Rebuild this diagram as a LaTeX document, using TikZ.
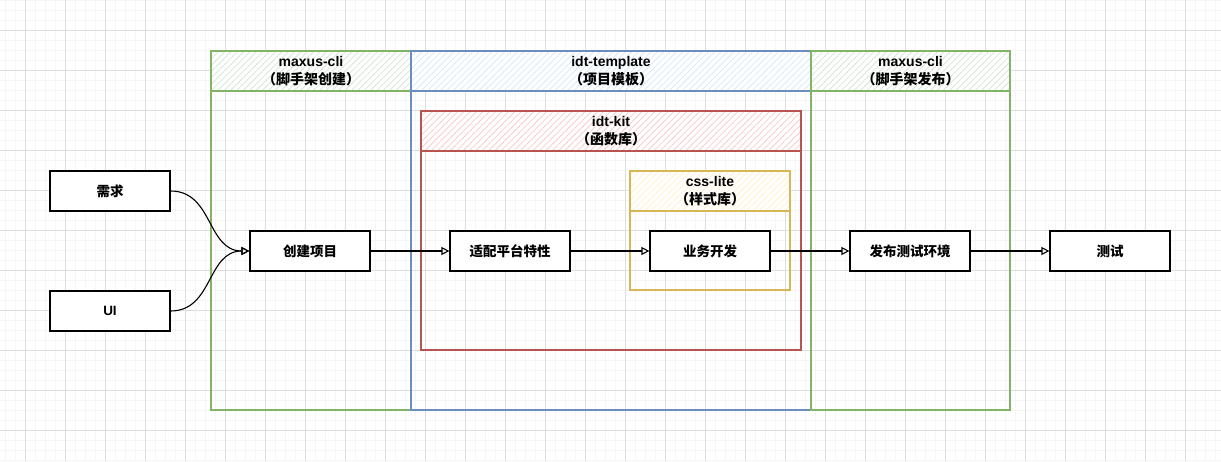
\documentclass[tikz,border=0pt]{standalone}
\usepackage{fontspec}
\setmainfont{Liberation Sans}
\newfontfamily\cjk{Noto Sans CJK SC}
\usetikzlibrary{arrows.meta,patterns.meta}

\definecolor{grnline}{HTML}{82B366}
\definecolor{grnfill}{HTML}{D5E8D4}
\definecolor{bluline}{HTML}{6C8EBF}
\definecolor{blufill}{HTML}{DAE8FC}
\definecolor{redline}{HTML}{B85450}
\definecolor{redfill}{HTML}{F8CECC}
\definecolor{ylwline}{HTML}{D6B656}
\definecolor{ylwfill}{HTML}{FFF2CC}

\tikzset{
  minorgrid/.style={line width=0.5pt,color=black!4},
  majorgrid/.style={line width=0.8pt,color=black!13},
  lane/.style={draw=#1line,line width=1.2pt,inner sep=0pt},
  lanehead/.style={draw=#1line,line width=1.2pt,inner sep=0pt,minimum height=40pt,
    preaction={fill=white},
    pattern={Lines[angle=45,distance=4.5pt,line width=0.8pt]},pattern color=#1fill,
    align=center,font=\fontsize{14}{17.5}\selectfont\bfseries},
  taskbox/.style={draw=black,fill=white,line width=1.2pt,inner sep=0pt,
    minimum width=120pt,minimum height=40pt,font=\fontsize{13.5}{16}\selectfont\bfseries\cjk},
  flow/.style={draw=black,line width=1.1pt,-{Triangle[open,length=8pt,width=8pt,line width=1.1pt]}}
}

\begin{document}
\begin{tikzpicture}[x=1pt,y=-1pt]

      \useasboundingbox (0,0) rectangle (1221,461);

      % grid
      \foreach \x in {5,15,...,1215} \draw[minorgrid] (\x,0) -- (\x,461);
      \foreach \y in {0,10,...,460} \draw[minorgrid] (0,\y) -- (1221,\y);
      \foreach \x in {25,65,...,1185} \draw[majorgrid] (\x,0) -- (\x,461);
      \foreach \y in {30,70,...,430} \draw[majorgrid] (0,\y) -- (1221,\y);

      % lanes
      \node[lane=grn,minimum width=200pt,minimum height=359pt] (create lane) at (311,230.5) {};
      \node[lanehead=grn,minimum width=200pt] (create head) at (311,71) {maxus-cli\\{\cjk （脚手架创建）}};

      \node[lane=blu,minimum width=400pt,minimum height=359pt] (tpl lane) at (611,230.5) {};
      \node[lanehead=blu,minimum width=400pt] (tpl head) at (611,71) {idt-template\\{\cjk （项目模板）}};

      \node[lane=grn,minimum width=199pt,minimum height=359pt] (publish lane) at (910.5,230.5) {};
      \node[lanehead=grn,minimum width=199pt] (publish head) at (910.5,71) {maxus-cli\\{\cjk （脚手架发布）}};

      \node[lane=red,minimum width=380pt,minimum height=239pt] (kit lane) at (611,230.5) {};
      \node[lanehead=red,minimum width=380pt] (kit head) at (611,131) {idt-kit\\{\cjk （函数库）}};

      \node[lane=ylw,minimum width=160pt,minimum height=119pt] (css lane) at (710,230.5) {};
      \node[lanehead=ylw,minimum width=160pt] (css head) at (710,191) {css-lite\\{\cjk （样式库）}};

      % tasks
      \begin{scope}[every node/.style={taskbox}]
        \node (need)    at (110,191)  {需求};
        \node[font=\fontsize{13.5}{16}\selectfont\bfseries] (ui) at (110,311) {UI};
        \node (create)  at (310,251)  {创建项目};
        \node (adapt)   at (510,251)  {适配平台特性};
        \node (dev)     at (710,251)  {业务开发};
        \node (publish) at (910,251)  {发布测试环境};
        \node (test)    at (1110,251) {测试};
      \end{scope}

      \begin{scope}[every edge/.style={flow}]
        \path (need.east) edge[out=0,in=180,looseness=1.1] (create.west);
        \path (ui.east)   edge[out=0,in=180,looseness=1.1] (create.west);
        \path (create)    edge (adapt);
        \path (adapt)     edge (dev);
        \path (dev)       edge (publish);
        \path (publish)   edge (test);
      \end{scope}

    \end{tikzpicture}
\end{document}
